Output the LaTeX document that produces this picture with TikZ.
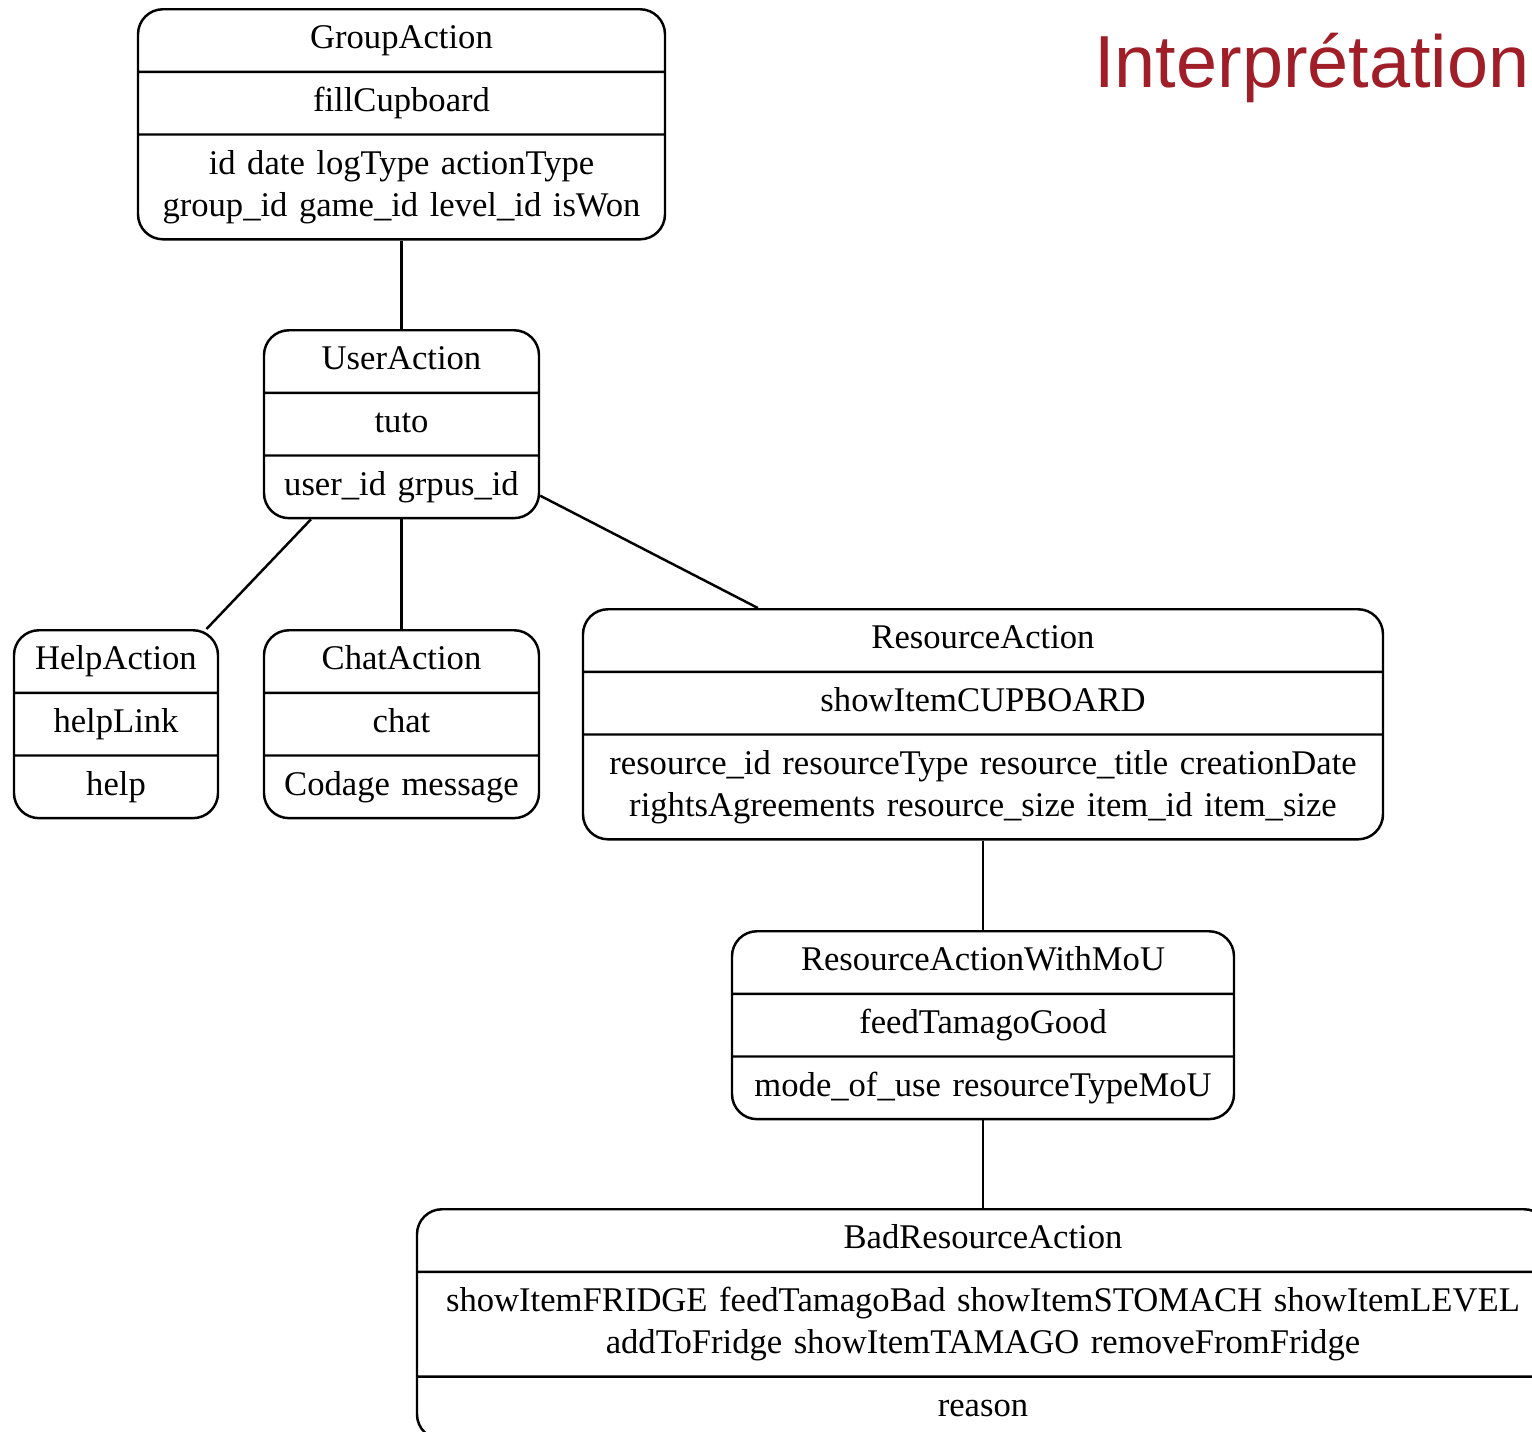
\documentclass[tikz,border=0pt]{standalone}
\usepackage{fontspec}
\setmainfont{Liberation Serif}
\newfontfamily\titlefamily{Liberation Sans}
\usetikzlibrary{shapes.multipart, positioning}
\definecolor{titlered}{RGB}{160, 30, 40}

% three compartments of one class box
\newcommand{\classparts}[3]{\strut#1\strut\nodepart{two}\strut#2\strut\nodepart{three}\strut#3\strut}

\begin{document}
\begin{tikzpicture}
    \tikzstyle{umlclass} = [rectangle split, rectangle split parts=3, draw, line width=0.7pt,
        rounded corners=2.5mm, anchor=north, align=center, inner xsep=1mm, inner ysep=0.9mm,
        font=\fontsize{9.85}{12}\selectfont]
    \tikzstyle{link} = [draw, line width=0.7pt]

    \useasboundingbox (0,0) rectangle (15.32,-14.31);

    \node[anchor=base east, text=titlered, font=\titlefamily\fontsize{21}{25}\selectfont, inner sep=0pt] (title) at (15.30,-0.87) {Interprétation};

    \node[umlclass, text width=5.07cm] (group) at (4.015,-0.08)
        {\classparts{GroupAction}{fillCupboard}{id date logType actionType\\group\_id game\_id level\_id isWon}};
    \node[umlclass, text width=2.55cm] (user) at (4.015,-3.29)
        {\classparts{UserAction}{tuto}{user\_id grpus\_id}};
    \node[umlclass, text width=1.84cm] (help) at (1.16,-6.29)
        {\classparts{HelpAction}{helpLink}{help}};
    \node[umlclass, text width=2.55cm] (chat) at (4.015,-6.29)
        {\classparts{ChatAction}{chat}{Codage message}};
    \node[umlclass, text width=7.80cm] (resource) at (9.83,-6.08)
        {\classparts{ResourceAction}{showItemCUPBOARD}{resource\_id resourceType resource\_title creationDate\\rightsAgreements resource\_size item\_id item\_size}};
    \node[umlclass, text width=4.82cm] (mou) at (9.83,-9.30)
        {\classparts{ResourceActionWithMoU}{feedTamagoGood}{mode\_of\_use resourceTypeMoU}};
    \node[umlclass, text width=11.12cm] (bad) at (9.83,-12.08)
        {\classparts{BadResourceAction}{showItemFRIDGE feedTamagoBad showItemSTOMACH showItemLEVEL\\addToFridge showItemTAMAGO removeFromFridge}{reason}};

    \draw[link] (group) -- (user);
    \draw[link] (user) -- (help);
    \draw[link] (user) -- (chat);
    \draw[link] (user) -- (resource);
    \draw[link] (resource) -- (mou);
    \draw[link] (mou) -- (bad);
\end{tikzpicture}
\end{document}
